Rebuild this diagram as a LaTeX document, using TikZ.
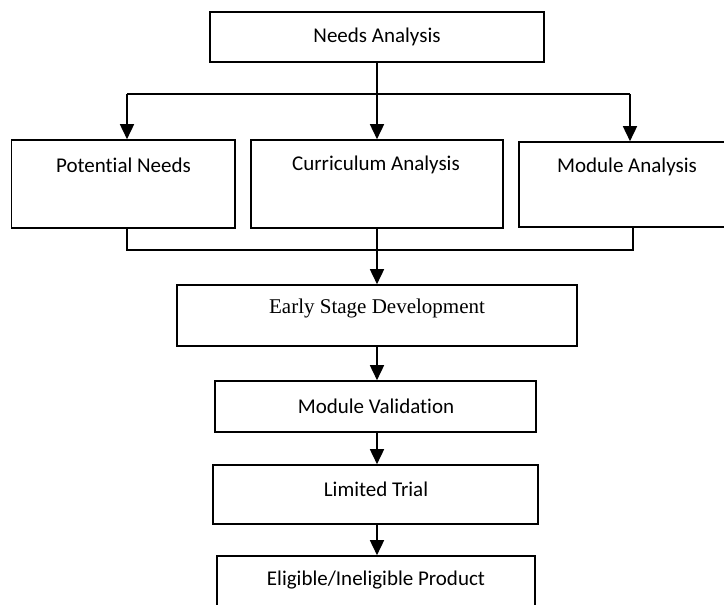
\documentclass[tikz,border=0pt]{standalone}
\usepackage{fontspec}
\setmainfont[Ligatures={NoCommon,NoContextual}]{Carlito}
\newfontfamily\timesf{Liberation Serif}
\usetikzlibrary{arrows.meta}
\begin{document}
\begin{tikzpicture}[x=1pt,y=-1pt,
  box/.style={draw, line width=1.6pt, inner sep=0pt, rectangle},
  lbl/.style={font=\fontsize{21}{25}\selectfont, inner sep=0pt},
  conn/.style={line width=1.6pt},
  arr/.style={conn, -{Triangle[width=14pt,length=15pt]}}]
\useasboundingbox (0,0) rectangle (724,605);
\clip (0,0) rectangle (724,605);
% boxes
\node[box, minimum width=334pt, minimum height=50pt] (na) at (377,37) {};
\node[box, minimum width=223.5pt, minimum height=88pt] (pn) at (123.25,184) {};
\node[box, minimum width=252pt, minimum height=88pt] (ca) at (377,184) {};
\node[box, minimum width=221pt, minimum height=85pt] (ma) at (629.5,184.5) {};
\node[box, minimum width=400pt, minimum height=61pt] (esd) at (377,315.5) {};
\node[box, minimum width=321pt, minimum height=51pt] (mv) at (375.5,406.5) {};
\node[box, minimum width=325pt, minimum height=59pt] (lt) at (375.5,494.5) {};
\node[box, minimum width=318pt, minimum height=64pt] (ep) at (376,588) {};
% labels
\node[lbl] (naT) at (377,37) {Needs Analysis};
\node[lbl] (pnT) at (123.5,165) {Potential Needs};
\node[lbl] (caT) at (376,165) {Curriculum Analysis};
\node[lbl] (maT) at (627,167) {Module Analysis};
\node[lbl, font=\fontsize{21}{25}\selectfont\timesf] (esdT) at (377,308) {Early Stage Development};
\node[lbl] (mvT) at (376,406) {Module Validation};
\node[lbl] (ltT) at (376,489) {Limited Trial};
\node[lbl] (epT) at (376,580) {Eligible/Ineligible Product};
% top connectors
\coordinate (tm) at (377,94);
\coordinate (tl) at (127,94);
\coordinate (tr) at (630,94);
\draw[conn] (na.south) -- (tm);
\draw[conn] (tl) -- (tr);
\draw[arr] (tl) -- (tl |- pn.north);
\draw[arr] (tm) -- (ca.north);
\draw[arr] (tr) -- (tr |- ma.north);
% bottom connectors
\coordinate (bl) at (127,250);
\coordinate (bm) at (377,250);
\coordinate (br) at (633,250);
\draw[conn] (bl |- pn.south) -- (bl) -- (br) -- (br |- ma.south);
\draw[conn] (ca.south) -- (bm);
\draw[arr] (bm) -- (esd.north);
\draw[arr] (esd.south) -- (esd.south |- mv.north);
\draw[arr] (esd.south |- mv.south) -- (esd.south |- lt.north);
\draw[arr] (esd.south |- lt.south) -- (esd.south |- ep.north);
\end{tikzpicture}
\end{document}
